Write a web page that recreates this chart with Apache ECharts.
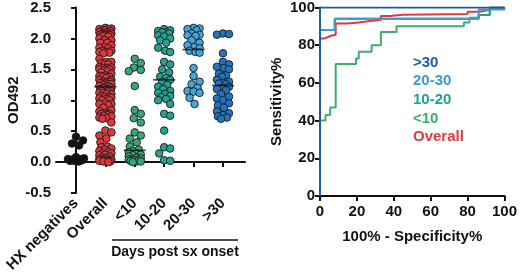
<!DOCTYPE html>
<html>
<head>
<meta charset="utf-8">
<script src="https://cdn.jsdelivr.net/npm/echarts@6/dist/echarts.min.js"></script>
<style>
  html, body { margin: 0; padding: 0; background: #fff; }
  #chart { width: 520px; height: 276px; }
</style>
</head>
<body>
<div id="chart"></div>
<script>
// groups on the dot plot
const groups = ['HX negatives', 'Overall', '<10', '10-20', '20-30', '>30'];

// OD492 values
const hxNeg = [0.41, 0.35, 0.30, 0.27, 0.08, 0.06, 0.05, 0.05, 0.04, 0.03, 0.03, 0.02, 0.02, 0.01];
const lt10 = [1.67, 1.60, 1.53, 1.49, 1.47, 1.23, 0.84, 0.78, 0.71, 0.64, 0.48, 0.43, 0.38, 0.32, 0.25, 0.20,
    0.18, 0.16, 0.14, 0.12, 0.11, 0.09, 0.07, 0.06, 0.05, 0.04, 0.03, 0.03, 0.01, 0.01, 0.00, 0.02];
const d10to20 = [2.15, 2.13, 2.12, 2.10, 2.10, 2.08, 2.05, 2.03, 2.00, 1.97, 1.93, 1.85, 1.80, 1.78, 1.62, 1.58,
    1.50, 1.45, 1.38, 1.36, 1.33, 1.30, 1.25, 1.22, 1.18, 1.15, 1.12, 1.10, 1.07, 1.05, 1.02, 1.00,
    0.94, 0.78, 0.75, 0.51, 0.24, 0.22, 0.14, 0.03, 0.02];
const d20to30 = [2.17, 2.16, 2.15, 2.13, 2.08, 2.06, 2.05, 2.04, 1.97, 1.93, 1.89, 1.86, 1.84, 1.80, 1.78, 1.77,
    1.52, 1.39, 1.30, 1.26, 1.20, 1.15, 1.14, 1.12, 1.04, 0.94];
const gt30 = [2.08, 2.07, 2.06, 1.76, 1.62, 1.58, 1.54, 1.52, 1.50, 1.43, 1.40, 1.38, 1.33, 1.30, 1.28, 1.27,
    1.26, 1.22, 1.20, 1.18, 1.16, 1.10, 1.06, 1.03, 1.00, 0.95, 0.92, 0.88, 0.82, 0.79, 0.76, 0.74, 0.72, 0.70];
// overall = every positive sample
const overall = [].concat(lt10, d10to20, d20to30, gt30);

// ROC curves: [100% - specificity, sensitivity]
const rocGt30 = [[0, 0], [0, 100], [100, 100]];
const roc20to30 = [[0, 0], [0, 88], [8, 88], [8, 94], [86, 94], [86, 99], [100, 99], [100, 100]];
const roc10to20 = [[0, 0], [0, 88], [8, 88], [8, 94], [86, 94], [86, 96], [92, 96], [92, 100], [100, 100]];
const rocLt10 = [[0, 0], [0, 40], [3, 40], [3, 43], [5.5, 43], [5.5, 47], [8.5, 47], [8.5, 70], [19.5, 70],
    [19.5, 73], [21, 73], [21, 76.5], [28, 76.5], [28, 80], [33, 80], [33, 87], [41.5, 87], [41.5, 90],
    [78, 90], [78, 92], [81, 92], [81, 94.5], [86, 94.5], [86, 96], [92, 96], [92, 100], [100, 100]];
const rocOverall = [[0, 0], [0, 83.5], [2, 83.5], [2, 84.2], [4, 84.2], [4, 85], [6, 85], [6, 85.5], [8.5, 85.5],
    [8.5, 91.5], [15, 91.5], [15, 92], [21, 92], [21, 92.8], [27, 92.8], [27, 93.5], [33, 93.5], [33, 95.5],
    [38, 95.5], [38, 96.2], [45, 96.2], [45, 96.5], [80, 96.5], [80, 97.8], [86.5, 97.8], [86.5, 98.8],
    [92, 98.8], [92, 100], [100, 100]];

const dotColors = ['#111111', '#e0373d', '#3aa57a', '#26a08f', '#44a7dc', '#2474bd'];
const font = "'Liberation Sans', Arial, sans-serif";

// pixel scale of the left panel, used only to spread dots side by side
const KX = 29.4, KY = 62.6, DOT = 7.6;
const spread = [8, 6.5, 6, 6, 6.5, 6];

function swarm(values, center, maxHalf) {
    const placed = [];
    const sorted = values.slice().sort((a, b) => b - a);
    return sorted.map(v => {
        const y = v * KY;
        let best = 0, bestScore = -Infinity;
        for (let k = 0; k <= maxHalf * 2 + 1; k++) {
            const off = (k % 2 ? 1 : -1) * Math.ceil(k / 2);
            if (Math.abs(off) > maxHalf) continue;
            let minD = Infinity;
            placed.forEach(p => {
                const d = Math.hypot(p[0] - off, p[1] - y);
                if (d < minD) minD = d;
            });
            if (minD >= DOT) { best = off; bestScore = Infinity; break; }
            if (minD > bestScore) { bestScore = minD; best = off; }
        }
        placed.push([best, y]);
        return [center + best / KX, v];
    });
}

function median(arr) {
    const s = arr.slice().sort((a, b) => a - b);
    const m = Math.floor(s.length / 2);
    return s.length % 2 ? s[m] : (s[m - 1] + s[m]) / 2;
}

const groupData = [hxNeg, overall, lt10, d10to20, d20to30, gt30];

const dotSeries = groupData.map((vals, i) => ({
    name: 'dots ' + groups[i],
    type: 'scatter',
    xAxisIndex: 0,
    yAxisIndex: 0,
    symbolSize: DOT,
    itemStyle: { color: dotColors[i], borderColor: '#1a1a1a', borderWidth: 0.9, opacity: 1 },
    data: swarm(vals, i, spread[i]),
    z: 3
}));

const medianSeries = {
    name: 'median',
    type: 'scatter',
    xAxisIndex: 0,
    yAxisIndex: 0,
    symbol: 'rect',
    symbolSize: [22, 1.6],
    itemStyle: { color: '#111' },
    data: groupData.map((vals, i) => [i, median(vals)]),
    z: 4
};

function rocSeries(name, color, data, z) {
    return {
        name: name,
        type: 'line',
        xAxisIndex: 1,
        yAxisIndex: 1,
        showSymbol: false,
        symbol: 'none',
        lineStyle: { color: color, width: 2 },
        itemStyle: { color: color },
        data: data,
        z: z
    };
}

const rocColors = { gt30: '#1e5ba4', d20to30: '#3a9ad6', d10to20: '#23a08c', lt10: '#3bae6e', overall: '#e23a3a' };

const axisLine = { show: true, lineStyle: { color: '#111', width: 2 } };
const axisTick = { show: true, length: 5, lineStyle: { color: '#111', width: 2 } };
const labelStyle = { color: '#111', fontSize: 15, fontWeight: 'bold', fontFamily: font };

const chart = echarts.init(document.getElementById('chart'));
chart.setOption({
    animation: false,
    backgroundColor: '#fff',
    grid: [
        { left: 56, top: 6, width: 189, height: 187 },
        { left: 320, top: 7, width: 188, height: 189 }
    ],
    xAxis: [
        {
            gridIndex: 0,
            type: 'value',
            min: -0.68,
            max: 5.75,
            axisLine: axisLine,
            axisTick: Object.assign({ customValues: [0, 1, 2, 3, 4, 5] }, axisTick),
            axisLabel: Object.assign({
                customValues: [0, 1, 2, 3, 4, 5],
                rotate: 45,
                margin: 8,
                formatter: v => groups[Math.round(v)]
            }, labelStyle),
            splitLine: { show: false }
        },
        {
            gridIndex: 1,
            type: 'value',
            min: 0,
            max: 100,
            interval: 20,
            name: '100% - Specificity%',
            nameLocation: 'middle',
            nameGap: 33,
            nameTextStyle: labelStyle,
            axisLine: axisLine,
            axisTick: axisTick,
            axisLabel: Object.assign({ margin: 8 }, labelStyle),
            splitLine: { show: false }
        }
    ],
    yAxis: [
        {
            gridIndex: 0,
            type: 'value',
            min: -0.5,
            max: 2.5,
            interval: 0.5,
            name: 'OD492',
            nameLocation: 'middle',
            nameGap: 34,
            nameTextStyle: labelStyle,
            axisLine: axisLine,
            axisTick: axisTick,
            axisLabel: Object.assign({ margin: 5, formatter: v => v.toFixed(1) }, labelStyle),
            splitLine: { show: false }
        },
        {
            gridIndex: 1,
            type: 'value',
            min: 0,
            max: 100,
            interval: 20,
            name: 'Sensitivity%',
            nameLocation: 'middle',
            nameGap: 36,
            nameTextStyle: labelStyle,
            axisLine: axisLine,
            axisTick: axisTick,
            axisLabel: Object.assign({ margin: 5 }, labelStyle),
            splitLine: { show: false }
        }
    ],
    legend: {
        orient: 'vertical',
        left: 408,
        top: 55,
        padding: 0,
        icon: 'none',
        itemWidth: 0,
        itemHeight: 15,
        itemGap: 3.7,
        selectedMode: false,
        textStyle: { fontSize: 15, fontWeight: 'bold', fontFamily: font },
        data: [
            { name: '>30', textStyle: { color: rocColors.gt30 } },
            { name: '20-30', textStyle: { color: rocColors.d20to30 } },
            { name: '10-20', textStyle: { color: rocColors.d10to20 } },
            { name: '<10', textStyle: { color: rocColors.lt10 } },
            { name: 'Overall', textStyle: { color: rocColors.overall } }
        ]
    },
    graphic: [
        {
            type: 'line',
            shape: { x1: 112, y1: 240, x2: 238, y2: 240 },
            style: { stroke: '#111', lineWidth: 1.5 }
        },
        {
            type: 'text',
            x: 175,
            y: 252,
            style: {
                text: 'Days post sx onset',
                fill: '#111',
                font: 'bold 14px ' + font,
                textAlign: 'center',
                textVerticalAlign: 'middle'
            }
        }
    ],
    series: dotSeries.concat([
        medianSeries,
        rocSeries('<10', rocColors.lt10, rocLt10, 2),
        rocSeries('Overall', rocColors.overall, rocOverall, 3),
        rocSeries('10-20', rocColors.d10to20, roc10to20, 4),
        rocSeries('20-30', rocColors.d20to30, roc20to30, 5),
        rocSeries('>30', rocColors.gt30, rocGt30, 6)
    ])
});
</script>
</body>
</html>
